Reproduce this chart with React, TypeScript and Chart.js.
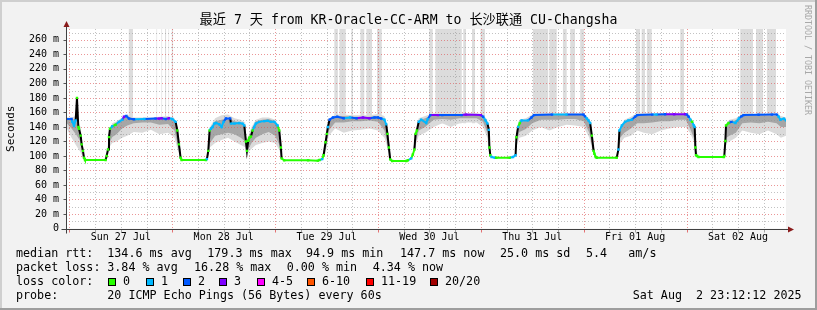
import React, { useEffect, useRef } from 'react';
import { Chart, registerables } from 'chart.js';

Chart.register(...registerables);

// ---------------- data ----------------
const titleText = '最近 7 天 from KR-Oracle-CC-ARM to 长沙联通 CU-Changsha';
const yAxisTitle = 'Seconds';
const sideText = 'RRDTOOL / TOBI OETIKER';

const xMinHour = -0.8; // Sat 26 Jul 23:12 (hours since Sun 27 Jul 00:00)
const xMaxHour = 167.2; // Sat 02 Aug 23:12
const yMaxMs = 275;

const yTickValues = [0, 20, 40, 60, 80, 100, 120, 140, 160, 180, 200, 220, 240, 260];
const yTickLabels = ['0', '20 m', '40 m', '60 m', '80 m', '100 m', '120 m', '140 m', '160 m', '180 m', '200 m', '220 m', '240 m', '260 m'];
const dayTickHours = [12, 36, 60, 84, 108, 132, 156];
const dayLabels = ['Sun 27 Jul', 'Mon 28 Jul', 'Tue 29 Jul', 'Wed 30 Jul', 'Thu 31 Jul', 'Fri 01 Aug', 'Sat 02 Aug'];

// median RTT (ms) and loss class per sample
const medianHours = [
  -0.8, 0.5, 0.7, 1.06, 1.45, 1.76, 2.07, 2.23, 2.62, 2.85, 3.16, 3.4, 3.63, 8.45, 8.68, 9.0, 9.23, 9.46, 10.0, 10.78,
  11.56, 12.34, 12.73, 13.27, 13.89, 15.06, 17.5, 20.1, 20.9, 21.5, 22.5, 23.2, 24.0, 24.78, 25.17, 25.55, 25.94, 26.18,
  31.85, 32.08, 32.4, 32.7, 33.0, 33.4, 33.8, 34.2, 34.96, 35.5, 35.97, 36.5, 37.5, 37.7, 38.5, 39.63, 40.4, 40.8, 41.18,
  41.42, 41.73, 41.96, 42.35, 42.74, 43.1, 43.5, 44.3, 45.46, 46.24, 47.0, 47.8, 48.57, 48.96, 49.35, 49.5, 50.1, 55.7,
  57.97, 58.36, 58.98, 59.3, 59.76, 60.07, 60.3, 60.7, 61.5, 62.5, 64, 65.5, 67, 68.5, 70, 71.2, 71.97, 72.75, 73.5, 73.9,
  74.2, 74.53, 74.84, 75.3, 78.6, 78.97, 79.75, 80.13, 80.5, 80.76, 81.07, 81.5, 82.08, 83.25, 83.6, 84.2, 86, 87, 91.5,
  92.5, 96.0, 96.54, 97.08, 97.55, 97.86, 98.0, 98.2, 98.5, 99.25, 99.6, 102.7, 103.5, 104.1, 104.3, 104.7, 105.1, 105.5,
  107.0, 107.8, 108.4, 112.6, 116, 119.93, 120.3, 120.7, 121.1, 121.5, 121.9, 122.3, 122.5, 122.8, 123.05, 127.7, 128.1,
  128.33, 128.9, 129.66, 130.4, 131.2, 131.98, 132.5, 136, 137, 139, 141.1, 143.7, 144.1, 144.5, 144.9, 145.3, 145.7,
  145.9, 146.06, 146.2, 146.45, 146.8, 152.67, 152.8, 153.05, 153.2, 153.8, 154.46, 155.4, 155.8, 156.2, 156.8, 157.3,
  160.8, 163.9, 165.1, 165.5, 165.9, 166.7, 167.2,
];
const medianMs = [
  151, 151, 147, 142, 149, 180, 140, 137.5, 128, 116, 107, 97.5, 94.5, 94.5, 100, 109, 126, 137.5, 141, 143,
  147, 150, 154, 155, 151.5, 150.7, 151, 151.5, 151.5, 152, 151, 152, 151, 147, 135, 116, 97.5, 94.5,
  94.5, 95.6, 107, 135, 137.6, 140, 144.6, 145.5, 143.7, 140, 147, 151.6, 151.6, 144.6, 144.6, 145.5, 144.6, 142, 120,
  107, 121, 125, 126.8, 135, 140, 144.6, 147, 148, 148.4, 147, 147, 142, 135, 111.7, 96.7, 94, 94,
  93.5, 94.5, 95.6, 101, 118.8, 130.5, 140, 150, 153, 154, 152, 153, 152, 153, 152, 153, 153, 151.6, 150, 143.7,
  130.5, 111.7, 95.3, 93, 93, 94, 96.7, 102, 109, 130.5, 135, 147, 150, 145.5, 150.7, 156.3, 156.3, 156.3, 156.3,
  157, 156.3, 154, 149, 144.6, 136, 111.7, 101, 98.6, 97.6, 97.6, 97.6, 98.6, 101, 125.8, 140, 145.5, 149,
  149, 153, 156.3, 157, 157, 157, 154.6, 151.6, 149, 145.5, 128, 107, 103, 98.6, 97.6, 97.6, 109,
  135, 142, 147, 149, 150, 154, 156.3, 157, 157, 157.5, 157.5, 157.5, 157, 154, 150, 147, 142,
  140, 111.7, 101, 100, 98.6, 98.6, 100, 120.7, 142, 145.5, 147, 145.5, 148.4, 151.6, 154.6, 156.3,
  156.8, 157, 157, 154, 150, 151.5, 149,
];
const medianLoss = [
  2, 2, 1, 1, 1, 0, 0, 0, 0, 0, 0, 0, 0, 0, 0, 0, 0, 0, 1, 0,
  1, 1, 3, 2, 2, 2, 1, 2, 3, 3, 2, 3, 1, 1, 0, 0, 0, 0,
  0, 1, 0, 0, 1, 1, 1, 1, 1, 1, 1, 2, 2, 1, 1, 1, 1, 1, 0,
  0, 0, 0, 0, 0, 1, 1, 1, 1, 1, 1, 1, 1, 0, 0, 0, 0, 0,
  0, 0, 1, 0, 0, 0, 1, 2, 2, 2, 2, 1, 2, 3, 3, 2, 2, 2, 1, 1,
  0, 0, 0, 0, 0, 0, 1, 0, 0, 0, 0, 1, 1, 1, 1, 2, 3, 2, 2,
  3, 3, 2, 1, 1, 1, 0, 0, 1, 1, 0, 0, 1, 1, 0, 1, 0, 1,
  1, 2, 2, 2, 1, 2, 2, 1, 1, 1, 0, 0, 0, 0, 0, 0, 1,
  1, 1, 1, 1, 1, 2, 2, 2, 1, 2, 3, 3, 2, 2, 1, 0, 1,
  1, 0, 0, 0, 0, 0, 0, 0, 0, 0, 2, 1, 1, 1, 2, 2,
  2, 2, 2, 1, 1, 1, 1,
];

// smoke (ping spread) outline, null = no smoke
const smokeHours = [
  -0.8, 0.5, 1.5, 2.6, 3.4, 3.5,
  8.7, 9.3, 10, 11, 12.3, 13.5, 15, 17, 19, 21, 23, 24.5, 25.3, 26.1, 26.2,
  32.3, 32.8, 34, 35.5, 37, 38.5, 40, 41, 41.3, 41.6, 42.5, 43.5, 45, 46.5, 48, 49, 49.6, 49.7,
  59.0, 59.8, 60.5, 62, 64, 66, 68, 70, 72, 73.5, 74.3, 75, 75.1,
  80.2, 80.8, 81.5, 83, 85, 87, 89, 91, 93, 95, 96.5, 97.5, 98.1, 98.5, 98.6,
  104.0, 104.4, 105, 106.5, 108, 110, 112, 114, 116, 118, 120, 121.3, 122.2, 122.8, 122.9,
  128.0, 128.5, 129.5, 131, 132.5, 134, 136, 138, 140, 142, 143.8, 144.8, 145.7, 146.1, 146.6, 146.7,
  152.9, 153.3, 154, 155.5, 157, 159, 161, 163, 165, 166, 167.2,
];
const smokeHi = [
  153, 153, 155, 140, 100, null,
  100, 135, 145, 148, 153, 157, 153, 153, 153, 154, 155, 152, 140, 100, null,
  100, 140, 152, 156, 157, 152, 150, 146, 125, 125, 140, 150, 153, 153, 150, 140, 100, null,
  97, 125, 150, 157, 157, 156, 156, 156, 158, 155, 135, 98, null,
  105, 135, 152, 155, 159, 159, 159, 159, 159, 159, 157, 150, 115, 100, null,
  103, 140, 150, 152, 157, 159, 159, 159, 159, 159, 158, 152, 125, 100, null,
  112, 140, 150, 154, 159, 159, 159, 159, 159, 159, 159, 153, 145, 115, 101, null,
  110, 145, 150, 152, 158, 158, 158, 158, 158, 155, 153,
];
const smokeLo = [
  140, 125, 115, 105, 95, null,
  96, 112, 118, 120, 125, 128, 133, 132, 136, 130, 132, 125, 108, 95, null,
  96, 112, 118, 122, 125, 120, 115, 112, 105, 104, 110, 115, 118, 120, 118, 108, 95, null,
  94, 105, 128, 138, 132, 135, 136, 138, 135, 125, 110, 94, null,
  100, 115, 128, 132, 140, 145, 140, 145, 146, 146, 140, 125, 100, 97, null,
  99, 115, 125, 128, 135, 140, 135, 140, 143, 142, 140, 125, 104, 97, null,
  100, 118, 125, 128, 135, 132, 130, 135, 138, 140, 140, 132, 120, 100, 97, null,
  100, 118, 120, 125, 135, 132, 130, 135, 130, 125, 128,
];
const smokeDarkHi = [
  152, 151, 150, 132, 99, null,
  99, 130, 142, 146, 151, 155, 151, 151, 151, 152, 152, 148, 135, 98, null,
  99, 137, 148, 150, 152, 148, 146, 142, 120, 122, 135, 148, 150, 151, 148, 135, 98, null,
  96, 120, 147, 155, 155, 154, 154, 154, 155, 150, 130, 96, null,
  104, 132, 149, 152, 157, 157, 157, 157, 158, 158, 155, 146, 112, 99, null,
  102, 135, 147, 149, 155, 157, 157, 157, 157, 157, 156, 148, 118, 99, null,
  110, 137, 147, 151, 157, 157, 157, 157, 157, 157, 157, 150, 140, 110, 100, null,
  105, 142, 148, 149, 156, 156, 156, 156, 155, 152, 150,
];
const smokeDarkLo = [
  146, 138, 130, 120, 96, null,
  97, 118, 126, 130, 138, 142, 145, 146, 146, 143, 144, 135, 115, 96, null,
  97, 118, 128, 130, 132, 130, 125, 120, 108, 108, 118, 125, 130, 133, 128, 115, 96, null,
  95, 110, 135, 146, 146, 148, 148, 149, 147, 135, 115, 95, null,
  101, 120, 135, 140, 150, 151, 150, 152, 152, 152, 147, 132, 103, 98, null,
  100, 120, 133, 137, 145, 150, 150, 150, 151, 151, 148, 132, 108, 98, null,
  104, 125, 132, 138, 145, 145, 146, 148, 148, 150, 150, 138, 125, 103, 98, null,
  101, 125, 128, 132, 145, 146, 145, 147, 145, 140, 140,
];

// periods where the outer smoke runs off the top of the graph
const topBarStart = [
  13.8, 20.27, 21.43, 22.3, 23.07, 23.84,
  61.78, 62.95, 65.75, 67.85, 69.25, 71.74,
  83.94, 85.34, 91.87, 93.9, 95.88,
  108.1, 111.93, 115.1, 116.83, 119.16,
  132.2, 133.46, 134.7, 142.5,
  156.5, 160.2, 162.7,
];
const topBarEnd = [
  14.83, 20.5, 21.67, 22.6, 23.3, 24.23,
  62.65, 64.5, 66.15, 68.85, 70.65, 72.9,
  84.8, 91.57, 92.57, 94.66, 97.0,
  111.77, 113.73, 116.06, 118.0, 120.16,
  133.2, 134.3, 135.9, 143.4,
  159.5, 161.9, 164.9,
];

const lossColors = ['#26ff00', '#00b8ff', '#0059ff', '#7e00ff', '#ff00ff', '#ff5500', '#ff0000', '#a10000'];
const lossLabels = ['0', '1', '2', '3', '4-5', '6-10', '11-19', '20/20'];

const rttLabel = 'median rtt:';
const rttStats = ['134.6 ms avg', '179.3 ms max', '94.9 ms min', '147.7 ms now', '25.0 ms sd', '5.4', 'am/s'];
const lossLabel = 'packet loss:';
const lossStats = ['3.84 % avg', '16.28 % max', '0.00 % min', '4.34 % now'];
const lossColorLabel = 'loss color:';
const probeLabel = 'probe:';
const probeText = '20 ICMP Echo Pings (56 Bytes) every 60s';
const dateText = 'Sat Aug  2 23:12:12 2025';

// ---------------- drawing ----------------
const MONO = '"DejaVu Sans Mono", "Noto Sans CJK SC", monospace';

function drawGrid(chart: any) {
  const { ctx, chartArea: a, scales } = chart;
  const x = scales.x, y = scales.y;
  ctx.save();
  ctx.lineWidth = 1;
  ctx.setLineDash([1, 2]);
  for (let v = 10; v < yMaxMs; v += 10) {
    const py = Math.round(y.getPixelForValue(v)) + 0.5;
    ctx.strokeStyle = v % 20 === 0 ? 'rgba(222,80,81,0.6)' : 'rgba(143,143,143,0.55)';
    ctx.beginPath();
    ctx.moveTo(a.left, py);
    ctx.lineTo(a.right, py);
    ctx.stroke();
  }
  for (let h = 0; h < xMaxHour; h += 6) {
    const px = Math.round(x.getPixelForValue(h)) + 0.5;
    ctx.strokeStyle = h % 24 === 0 ? 'rgba(222,80,81,0.6)' : 'rgba(143,143,143,0.55)';
    ctx.beginPath();
    ctx.moveTo(px, a.top);
    ctx.lineTo(px, a.bottom);
    ctx.stroke();
  }
  ctx.restore();
}

function drawFrame(chart: any) {
  const { ctx, chartArea: a, scales } = chart;
  const x = scales.x, y = scales.y;
  ctx.save();
  const ax = Math.round(a.left) + 0.5;
  const ay = Math.round(a.bottom) + 0.5;
  // ticks
  ctx.lineWidth = 1;
  for (const v of yTickValues) {
    const py = Math.round(y.getPixelForValue(v)) + 0.5;
    ctx.strokeStyle = '#555';
    ctx.beginPath(); ctx.moveTo(ax - 3, py); ctx.lineTo(ax, py); ctx.stroke();
  }
  for (let h = 0; h < xMaxHour; h += 6) {
    const px = Math.round(x.getPixelForValue(h)) + 0.5;
    ctx.strokeStyle = h % 24 === 0 ? 'rgba(222,80,81,0.8)' : 'rgba(143,143,143,0.8)';
    ctx.beginPath(); ctx.moveTo(px, ay); ctx.lineTo(px, ay + 3); ctx.stroke();
  }
  // axes
  ctx.strokeStyle = '#404040';
  ctx.beginPath(); ctx.moveTo(ax - 5, ay); ctx.lineTo(a.right + 2, ay); ctx.stroke();
  ctx.beginPath(); ctx.moveTo(ax, ay + 4); ctx.lineTo(ax, a.top - 3); ctx.stroke();
  // arrows
  ctx.fillStyle = '#8a1b1b';
  ctx.beginPath(); ctx.moveTo(ax - 3, a.top - 2); ctx.lineTo(ax + 3, a.top - 2); ctx.lineTo(ax, a.top - 8); ctx.closePath(); ctx.fill();
  ctx.beginPath(); ctx.moveTo(a.right + 2, ay - 3); ctx.lineTo(a.right + 2, ay + 3); ctx.lineTo(a.right + 8, ay); ctx.closePath(); ctx.fill();

  // title
  ctx.fillStyle = '#000';
  ctx.textBaseline = 'middle';
  ctx.textAlign = 'center';
  ctx.font = '13.2px ' + MONO;
  ctx.fillText(titleText, 408.5, 21);

  // y-axis title
  ctx.save();
  ctx.translate(11, (a.top + a.bottom) / 2);
  ctx.rotate(-Math.PI / 2);
  ctx.font = '11px ' + MONO;
  ctx.fillText(yAxisTitle, 0, 0);
  ctx.restore();

  // side text
  ctx.save();
  ctx.translate(807, 5);
  ctx.rotate(Math.PI / 2);
  ctx.textAlign = 'left';
  ctx.font = '8.3px ' + MONO;
  ctx.fillStyle = '#a8a8a8';
  ctx.fillText(sideText, 0, 0);
  ctx.restore();

  // legend
  ctx.textAlign = 'left';
  ctx.font = '11.7px ' + MONO;
  ctx.fillStyle = '#000';
  const l1 = 254, l2 = 268.3, l3 = 282.3, l4 = 296;
  ctx.fillText(rttLabel, 16, l1);
  const rttX = [107.3, 207.3, 306, 400, 500, 586, 628.3];
  rttStats.forEach((s, i) => ctx.fillText(s, rttX[i], l1));
  ctx.fillText(lossLabel, 16, l2);
  const lossX = [107.3, 194, 286.7, 372.7];
  lossStats.forEach((s, i) => ctx.fillText(s, lossX[i], l2));
  ctx.fillText(lossColorLabel, 16, l3);
  const boxX = [108.3, 145.7, 182.7, 219.3, 256.7, 306.7, 365.7, 430];
  lossLabels.forEach((s, i) => {
    const bx = Math.round(boxX[i]);
    ctx.fillStyle = lossColors[i];
    ctx.fillRect(bx, 278, 8, 8);
    ctx.strokeStyle = '#000';
    ctx.lineWidth = 1;
    ctx.strokeRect(bx + 0.5, 278.5, 7, 7);
    ctx.fillStyle = '#000';
    ctx.fillText(s, bx + 15, l3);
  });
  ctx.fillText(probeLabel, 16, l4);
  ctx.fillText(probeText, 107.3, l4);
  ctx.fillText(dateText, 632.7, l4);
  ctx.restore();
}

const rrdPlugin = {
  id: 'rrdLook',
  beforeDraw(chart: any) {
    const { ctx, chartArea: a, width, height } = chart;
    ctx.save();
    ctx.fillStyle = '#f2f2f2';
    ctx.fillRect(0, 0, width, height);
    ctx.fillStyle = '#cfcfcf';
    ctx.fillRect(0, 0, width, 2);
    ctx.fillRect(0, 0, 2, height);
    ctx.fillStyle = '#9e9e9e';
    ctx.fillRect(0, height - 2, width, 2);
    ctx.fillRect(width - 2, 0, 2, height);
    ctx.fillStyle = '#ffffff';
    ctx.fillRect(a.left, a.top, a.right - a.left, a.bottom - a.top);
    ctx.restore();
  },
  beforeDatasetDraw(chart: any, args: any) {
    if (args.index === 0) drawGrid(chart);
  },
  afterDraw(chart: any) {
    drawFrame(chart);
  },
};

export default function App() {
  const ref = useRef<HTMLCanvasElement>(null);
  useEffect(() => {
    const canvas = ref.current;
    if (!canvas) return;
    const medianData = medianHours.map((h, i) => ({ x: h, y: medianMs[i] }));
    const smoke = (arr: (number | null)[]) => smokeHours.map((h, i) => ({ x: h, y: arr[i] }));
    const barData: { x: number; y: number | null }[] = [];
    topBarStart.forEach((s, i) => {
      barData.push({ x: s, y: 300 }, { x: topBarEnd[i], y: 300 }, { x: topBarEnd[i], y: null });
    });
    const clear = 'rgba(0,0,0,0)';
    const chart = new Chart(canvas, {
      type: 'line',
      data: {
        datasets: [
          {
            data: medianData,
            borderWidth: 2,
            borderColor: '#000',
            tension: 0,
            spanGaps: false,
            fill: false,
            pointStyle: 'rect',
            pointRadius: 1.7,
            pointBorderWidth: 0,
            pointBackgroundColor: medianLoss.map((l) => lossColors[l]),
            segment: {
              borderColor: (c: any) => {
                const dx = Math.abs(c.p1.x - c.p0.x);
                const dy = Math.abs(c.p1.y - c.p0.y);
                if (dy > 2.5 * dx + 1.5) return '#000';
                return lossColors[medianLoss[c.p1DataIndex]];
              },
            },
          } as any,
          { data: smoke(smokeDarkHi), borderWidth: 1, borderColor: clear, pointRadius: 0, fill: '+1', backgroundColor: '#a6a6a6', tension: 0 },
          { data: smoke(smokeDarkLo), borderWidth: 1, borderColor: clear, pointRadius: 0, fill: false, tension: 0 },
          { data: smoke(smokeHi), borderWidth: 1, borderColor: clear, pointRadius: 0, fill: '+1', backgroundColor: '#dadada', tension: 0 },
          { data: smoke(smokeLo), borderWidth: 1, borderColor: clear, pointRadius: 0, fill: false, tension: 0 },
          { data: barData, borderWidth: 1, borderColor: clear, pointRadius: 0, fill: { value: 145 }, backgroundColor: '#dcdcdc', tension: 0 },
        ],
      },
      options: {
        animation: false,
        responsive: false,
        devicePixelRatio: 1,
        events: [],
        layout: { padding: { left: 0, right: 31, top: 29, bottom: 0 } },
        plugins: { legend: { display: false }, tooltip: { enabled: false }, title: { display: false } },
        scales: {
          x: {
            type: 'linear',
            min: xMinHour,
            max: xMaxHour,
            grid: { display: false, drawTicks: false },
            border: { display: false },
            afterBuildTicks: (s: any) => { s.ticks = dayTickHours.map((v) => ({ value: v })); },
            afterFit: (s: any) => { s.height = 81.5; },
            ticks: {
              autoSkip: false,
              maxRotation: 0,
              padding: 3,
              color: '#000',
              font: { family: MONO, size: 10 },
              callback: (_v: any, i: number) => dayLabels[i],
            },
          },
          y: {
            type: 'linear',
            min: 0,
            max: yMaxMs,
            grid: { display: false, drawTicks: false },
            border: { display: false },
            afterBuildTicks: (s: any) => { s.ticks = yTickValues.map((v) => ({ value: v })); },
            afterFit: (s: any) => { s.width = 66; },
            ticks: {
              autoSkip: false,
              padding: 7,
              color: '#000',
              font: { family: MONO, size: 10 },
              callback: (_v: any, i: number) => yTickLabels[i],
            },
          },
        },
      },
      plugins: [rrdPlugin],
    } as any);
    return () => chart.destroy();
  }, []);
  return (
    <div style={{ position: 'absolute', left: 0, top: 0, width: 817, height: 310 }}>
      <canvas ref={ref} width={817} height={310} style={{ display: 'block', width: 817, height: 310 }} />
    </div>
  );
}
